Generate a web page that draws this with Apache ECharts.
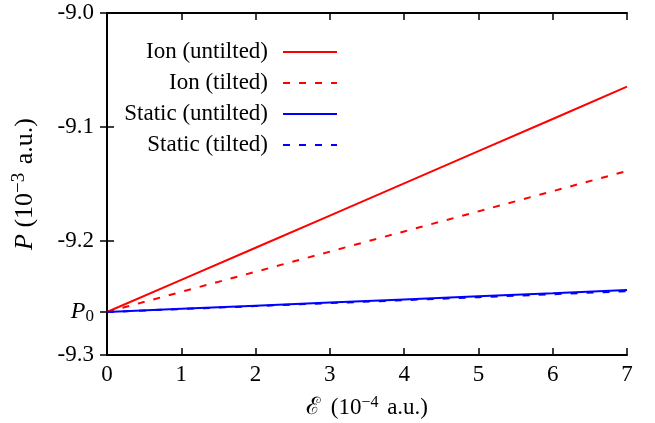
<!DOCTYPE html>
<html><head><meta charset="utf-8">
<script src="https://cdn.jsdelivr.net/npm/echarts@6/dist/echarts.min.js"></script>
<style>html,body{margin:0;padding:0;background:#fff}#c{width:655px;height:423px}</style>
</head><body><div id="c"></div>
<script>
const P0 = -9.2623;
const fieldValues = [0, 1, 2, 3, 4, 5, 6, 7];
const ionUntilted = [-9.2623, -9.2341, -9.2059, -9.1777, -9.1494, -9.1212, -9.0930, -9.0646];
const ionTilted = [-9.2623, -9.2446, -9.2270, -9.2093, -9.1916, -9.1740, -9.1563, -9.1386];
const staticUntilted = [-9.2623, -9.2595, -9.2568, -9.2540, -9.2513, -9.2485, -9.2458, -9.2430];
const staticTilted = [-9.2623, -9.2597, -9.2571, -9.2545, -9.2519, -9.2493, -9.2467, -9.2440];
const yTicks = [-9.3, P0, -9.2, -9.1, -9.0];
const xTicks = [0, 1, 2, 3, 4, 5, 6, 7];
const seriesNames = ['Ion (untilted)', 'Ion (tilted)', 'Static (untilted)', 'Static (tilted)'];

const font = 'Liberation Serif';
const FS = 23;
const pairs = a => fieldValues.map((x, i) => [x, a[i]]);
const chart = echarts.init(document.getElementById('c'), null, {renderer: 'canvas'});
const axisLine = {show: true, lineStyle: {color: '#000', width: 2}};
const tickIn = {show: true, inside: true, length: 7, lineStyle: {color: '#000', width: 1.5}};
const mk = (name, data, color, dashed) => ({
  name, type: 'line', data: pairs(data), symbol: 'none', showSymbol: false, smooth: false,
  lineStyle: {color, width: 2, type: dashed ? [7, 9] : 'solid'}, itemStyle: {color},
  emphasis: {disabled: true}, z: dashed ? 2 : 3
});
chart.setOption({
  animation: false,
  textStyle: {fontFamily: font},
  grid: {left: 107, right: 28, top: 13, bottom: 68, containLabel: false, outerBoundsMode: 'none'},
  legend: {
    orient: 'vertical', right: 312, top: 35.5, align: 'right',
    itemWidth: 54, itemHeight: 14, itemGap: 8,
    itemStyle: {opacity: 0},
    textStyle: {fontFamily: font, fontSize: FS, lineHeight: 23, color: '#000', padding: [0, 10, 0, 0]},
    data: seriesNames
  },
  xAxis: [{
    type: 'value', min: 0, max: 7, interval: 1,
    axisLine, axisTick: tickIn, splitLine: {show: false},
    axisLabel: {fontFamily: font, fontSize: FS, color: '#000', margin: 8, customValues: xTicks},
    name: '{e|ℰ} (10{sup|−4} a.u.)', nameLocation: 'middle', nameGap: 40,
    nameTextStyle: {fontFamily: font, fontSize: FS, color: '#000',
      rich: {e: {fontFamily: font, fontSize: FS + 1, padding: [0, 5, 0, 0]}, sup: {fontFamily: font, fontSize: 16, padding: [0, 3, 10, 0]}}}
  }, {
    type: 'value', min: 0, max: 7, interval: 1, position: 'top',
    axisLine, axisTick: tickIn, axisLabel: {show: false}, splitLine: {show: false}
  }],
  yAxis: [{
    type: 'value', min: -9.3, max: -9.0,
    axisLine, splitLine: {show: false},
    axisTick: Object.assign({}, tickIn, {customValues: yTicks}),
    axisLabel: {
      fontFamily: font, fontSize: FS, color: '#000', margin: 13, customValues: yTicks,
      formatter: v => Math.abs(v - P0) < 1e-6 ? '{i|P}{s|0}' : v.toFixed(1),
      rich: {i: {fontFamily: font, fontSize: FS + 1, fontStyle: 'italic', color: '#000'}, s: {fontFamily: font, fontSize: 17, color: '#000', padding: [10, 0, 0, 0]}}
    },
    name: '{i|P} (10{sup|−3} a.u.)', nameLocation: 'middle', nameRotate: 90, nameGap: 67,
    nameTextStyle: {fontFamily: font, fontSize: 26, color: '#000',
      rich: {i: {fontFamily: font, fontSize: 26, fontStyle: 'italic'}, sup: {fontFamily: font, fontSize: 19, padding: [0, 2, 11, 0]}}}
  }, {
    type: 'value', min: -9.3, max: -9.0, position: 'right',
    axisLine, splitLine: {show: false}, axisLabel: {show: false},
    axisTick: Object.assign({}, tickIn, {customValues: yTicks})
  }],
  series: [
    mk(seriesNames[0], ionUntilted, '#ff0000', false),
    mk(seriesNames[1], ionTilted, '#ff0000', true),
    mk(seriesNames[2], staticUntilted, '#0000ff', false),
    mk(seriesNames[3], staticTilted, '#0000ff', true)
  ]
});
</script></body></html>
